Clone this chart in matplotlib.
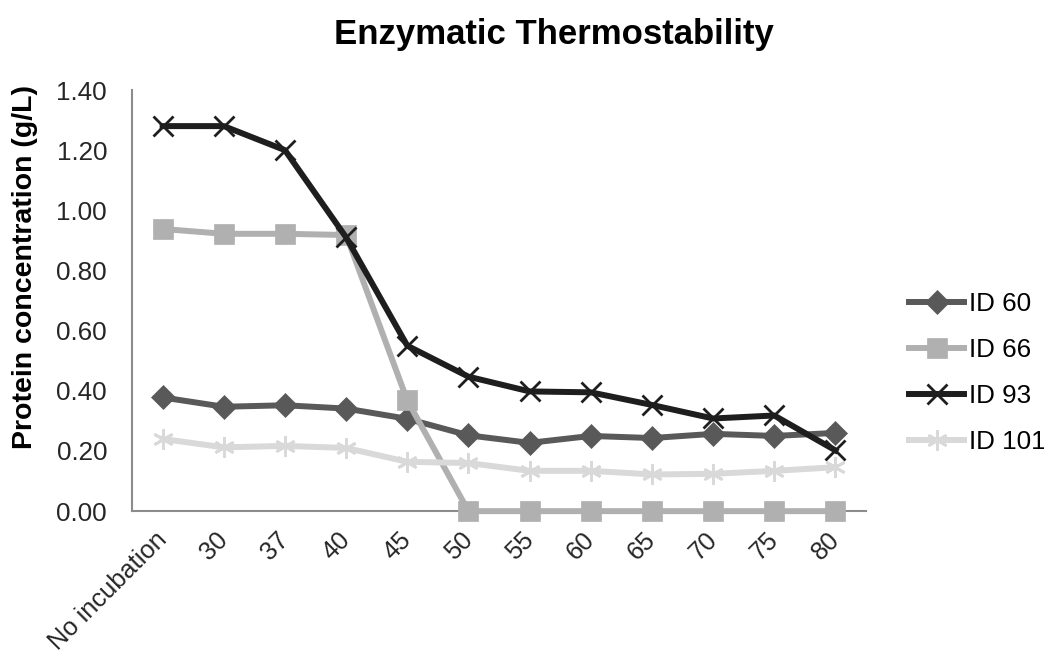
import matplotlib.pyplot as plt
from matplotlib.transforms import ScaledTranslation

plt.rcParams['font.family'] = ['Liberation Sans', 'DejaVu Sans']

# data
temperatures = ["No incubation", "30", "37", "40", "45", "50", "55", "60", "65", "70", "75", "80"]
id_60 = [0.378, 0.347, 0.352, 0.341, 0.307, 0.252, 0.227, 0.250, 0.243, 0.257, 0.250, 0.260]
id_66 = [0.938, 0.922, 0.922, 0.918, 0.368, 0.0, 0.0, 0.0, 0.0, 0.0, 0.0, 0.0]
id_93 = [1.280, 1.280, 1.200, 0.910, 0.550, 0.447, 0.398, 0.395, 0.353, 0.308, 0.318, 0.202]
id_101 = [0.240, 0.212, 0.217, 0.210, 0.164, 0.160, 0.134, 0.134, 0.122, 0.124, 0.134, 0.146]

series = [
    ("ID 60", id_60, "#595959", "D", 12),
    ("ID 66", id_66, "#b0b0b0", "s", 15),
    ("ID 93", id_93, "#1e1e1e", "x", 14),
    ("ID 101", id_101, "#d9d9d9", (6, 2, 0), 15),
]

fig = plt.figure(figsize=(10.44, 6.57), dpi=100)
ax = fig.add_axes([0.1265, 0.222, 0.703, 0.641])

x = list(range(len(temperatures)))
# ID 93 draws on top of the others as in the reference
order = [1, 0, 3, 2]
handles = {}
for i in order:
    label, vals, color, marker, ms = series[i]
    mew = 2.0 if marker in ("x", (6, 2, 0)) else 0.5
    ln, = ax.plot(x, vals, color=color, lw=4.3, marker=marker, markersize=ms,
                  markeredgewidth=mew, markeredgecolor=color, markerfacecolor=color,
                  label=label, zorder=3 + i, clip_on=False)
    handles[label] = ln

ax.set_xlim(-0.5, len(temperatures) - 0.5)
ax.set_ylim(0, 1.4)
ax.set_yticks([0.0, 0.2, 0.4, 0.6, 0.8, 1.0, 1.2, 1.4])
ax.set_yticklabels([f"{v:.2f}" for v in ax.get_yticks()], fontsize=18.7, color="#262626")
ax.set_xticks(x)
ax.set_xticklabels(temperatures, rotation=45, ha="right", rotation_mode="anchor",
                   fontsize=18.3, color="#262626")
ax.tick_params(axis="y", length=0, pad=18)
ax.tick_params(axis="x", length=0, pad=12)
# nudge the rotated labels left so they sit under their points
shift = ScaledTranslation(-6 / 72, 0, fig.dpi_scale_trans)
for t in ax.get_xticklabels():
    t.set_transform(t.get_transform() + shift)

for side in ("top", "right"):
    ax.spines[side].set_visible(False)
for side in ("left", "bottom"):
    ax.spines[side].set_color("#8c8c8c")
    ax.spines[side].set_linewidth(1.5)

ax.set_ylabel("Protein concentration (g/L)", fontsize=20.5, fontweight="bold")
ax.yaxis.set_label_coords(-0.128, 0.58)
fig.suptitle("Enzymatic Thermostability", fontsize=25, fontweight="bold", x=0.531, y=0.972)

labels = [s[0] for s in series]
leg = ax.legend([handles[l] for l in labels], labels, loc="center left",
                bbox_to_anchor=(1.045, 0.328), frameon=False, fontsize=18.7,
                handlelength=2.1, handletextpad=0.2, labelspacing=0.85,
                borderaxespad=0.0)

fig.savefig("out.png", dpi=100)
